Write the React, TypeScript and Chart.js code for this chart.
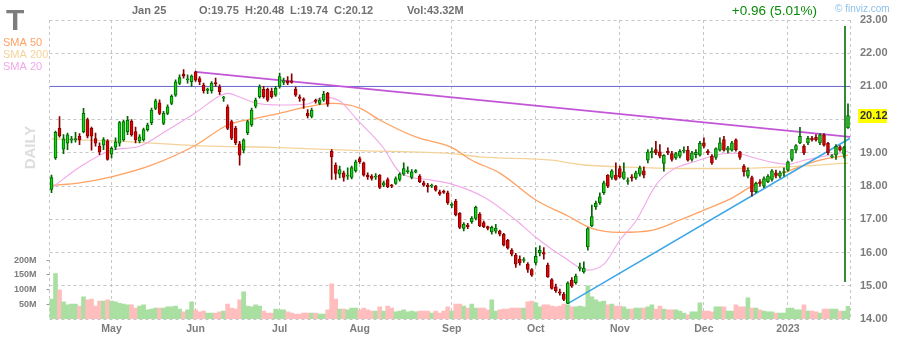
import React, { useEffect, useRef } from 'react';
import { Chart, registerables } from 'chart.js';

Chart.register(...registerables);

const FONT = "'Liberation Sans', Arial, sans-serif";

const ticker = 'T';
const lastDateLabel = 'Jan 25';

// Daily candles, 8 Apr 2022 to 25 Jan 2023 (200 sessions)
const opens = [
  17.90, 18.85, 19.74, 19.11, 19.29, 19.38, 19.40, 19.50, 19.64, 20.00,
  19.74, 19.43, 19.20, 19.23, 19.36, 18.96, 19.17, 19.29, 19.39, 19.64,
  19.96, 19.64, 19.36, 19.39, 19.70, 19.91, 20.34, 20.51, 19.89, 20.19,
  20.49, 20.74, 21.09, 21.37, 21.20, 21.14, 21.44, 21.24, 21.04, 20.88,
  20.87, 21.12, 20.99, 20.65, 20.39, 19.94, 19.74, 19.27, 19.08, 19.61,
  19.84, 20.41, 20.69, 20.91, 20.91, 20.85, 20.74, 21.00, 21.12, 21.17,
  21.17, 20.91, 20.69, 20.62, 20.20, 20.10, 20.58, 20.49, 20.59, 20.79,
  19.05, 18.63, 18.36, 18.40, 18.30, 18.26, 18.46, 18.83, 18.70, 18.33,
  18.30, 18.27, 18.33, 18.03, 18.20, 18.02, 18.08, 18.20, 18.36, 18.43,
  18.26, 18.42, 18.30, 18.10, 18.03, 18.00, 18.00, 17.83, 17.83, 17.80,
  17.42, 17.55, 17.18, 16.73, 16.83, 16.93, 17.03, 17.16, 16.90, 16.78,
  16.62, 16.64, 16.65, 16.55, 16.37, 16.07, 15.92, 15.80, 15.76, 15.65,
  15.49, 15.69, 15.99, 16.00, 15.62, 15.19, 14.97, 14.82, 14.75, 14.47,
  15.17, 15.09, 15.52, 15.42, 16.17, 16.80, 17.38, 17.50, 17.80, 18.33,
  18.26, 18.33, 18.53, 18.23, 18.14, 18.28, 18.25, 18.36, 18.46, 18.78,
  19.00, 19.10, 19.03, 18.68, 19.05, 18.98, 18.85, 18.90, 19.05, 19.08,
  18.80, 18.95, 18.93, 19.30, 19.05, 18.90, 18.86, 19.08, 19.40, 19.08,
  19.08, 19.39, 19.03, 18.60, 18.30, 18.26, 17.83, 18.12, 18.00, 18.13,
  18.20, 18.40, 18.30, 18.41, 18.48, 18.80, 19.08, 19.30, 19.20, 19.30,
  19.44, 19.47, 19.30, 19.54, 19.29, 18.88, 18.93, 19.18, 18.96, 19.75,
];
const highs = [
  18.33, 19.66, 20.09, 19.55, 19.60, 19.50, 19.62, 19.58, 20.34, 20.05,
  19.78, 19.60, 19.30, 19.46, 19.40, 19.18, 19.45, 19.95, 19.98, 20.10,
  20.00, 19.78, 19.55, 19.75, 19.90, 20.35, 20.62, 20.60, 20.25, 20.45,
  20.75, 21.20, 21.35, 21.51, 21.35, 21.35, 21.46, 21.30, 21.10, 20.95,
  21.15, 21.25, 21.05, 20.70, 20.45, 19.98, 19.80, 19.35, 19.42, 19.98,
  20.35, 20.65, 21.05, 21.00, 20.95, 20.95, 21.00, 21.40, 21.25, 21.30,
  21.38, 20.98, 20.75, 20.66, 20.30, 20.35, 20.62, 20.65, 20.85, 20.82,
  19.10, 18.70, 18.60, 18.45, 18.55, 18.60, 18.78, 18.88, 18.72, 18.40,
  18.35, 18.38, 18.35, 18.15, 18.25, 18.05, 18.28, 18.40, 18.70, 18.58,
  18.50, 18.50, 18.35, 18.15, 18.08, 18.06, 18.02, 17.88, 17.88, 17.85,
  17.50, 17.60, 17.20, 16.90, 16.88, 17.08, 17.40, 17.20, 16.95, 16.80,
  16.80, 16.85, 16.68, 16.58, 16.40, 16.12, 15.98, 15.90, 15.85, 15.70,
  15.52, 16.15, 16.20, 16.15, 15.68, 15.22, 15.05, 14.90, 14.80, 15.12,
  15.25, 15.35, 15.68, 15.72, 16.75, 17.43, 17.55, 17.80, 18.15, 18.35,
  18.50, 18.70, 18.60, 18.70, 18.25, 18.35, 18.45, 18.60, 18.58, 19.10,
  19.15, 19.35, 19.25, 18.95, 19.15, 19.05, 19.02, 19.10, 19.18, 19.20,
  19.05, 19.10, 19.35, 19.45, 19.10, 18.95, 19.15, 19.45, 19.50, 19.20,
  19.35, 19.42, 19.05, 18.65, 18.55, 18.30, 18.12, 18.20, 18.28, 18.35,
  18.50, 18.48, 18.45, 18.55, 18.75, 19.10, 19.25, 19.77, 19.25, 19.50,
  19.50, 19.55, 19.58, 19.58, 19.32, 18.95, 19.25, 19.22, 19.20, 20.48,
];
const lows = [
  17.80, 18.80, 19.47, 18.98, 19.10, 19.30, 19.32, 19.25, 19.60, 19.45,
  19.08, 19.20, 18.95, 19.10, 18.78, 18.85, 19.10, 19.20, 19.35, 19.55,
  19.50, 19.30, 19.30, 19.35, 19.65, 19.85, 20.30, 20.15, 19.85, 20.15,
  20.45, 20.70, 21.05, 21.25, 21.10, 21.00, 21.15, 21.05, 20.80, 20.78,
  20.80, 21.00, 20.75, 20.55, 19.70, 19.40, 19.25, 18.63, 19.00, 19.55,
  19.80, 20.35, 20.65, 20.65, 20.55, 20.65, 20.70, 20.95, 21.05, 21.05,
  21.10, 20.70, 20.55, 20.34, 20.05, 20.05, 20.50, 20.45, 20.55, 20.40,
  18.20, 18.20, 18.25, 18.15, 18.20, 18.22, 18.42, 18.68, 18.30, 18.20,
  18.18, 18.20, 17.92, 17.98, 17.95, 17.95, 18.05, 18.15, 18.32, 18.38,
  18.22, 18.40, 18.10, 18.00, 17.82, 17.95, 17.85, 17.72, 17.78, 17.45,
  17.35, 17.10, 16.72, 16.65, 16.72, 16.88, 16.98, 16.78, 16.75, 16.68,
  16.55, 16.58, 16.50, 16.20, 16.10, 15.90, 15.55, 15.62, 15.70, 15.40,
  15.28, 15.62, 15.90, 15.80, 15.25, 14.90, 14.80, 14.72, 14.55, 14.46,
  14.95, 15.05, 15.45, 15.38, 16.07, 16.78, 17.30, 17.45, 17.75, 17.95,
  18.20, 18.18, 18.25, 18.20, 18.05, 18.15, 18.20, 18.30, 18.25, 18.70,
  18.85, 18.95, 18.85, 18.45, 18.95, 18.75, 18.80, 18.85, 19.00, 18.75,
  18.75, 18.85, 18.90, 19.15, 18.95, 18.65, 18.80, 19.05, 19.05, 19.00,
  19.05, 19.05, 18.80, 18.30, 18.25, 17.70, 17.80, 18.00, 17.95, 18.10,
  18.15, 18.25, 18.25, 18.30, 18.45, 18.75, 19.00, 19.28, 18.95, 19.25,
  19.35, 19.35, 19.25, 19.20, 18.95, 18.85, 18.80, 19.05, 18.85, 19.74,
];
const closes = [
  18.26, 19.62, 19.51, 19.42, 19.54, 19.42, 19.42, 19.39, 20.19, 19.50,
  19.50, 19.29, 19.03, 19.40, 18.80, 19.14, 19.33, 19.91, 19.94, 19.99,
  19.54, 19.39, 19.48, 19.70, 19.84, 20.29, 20.57, 20.19, 20.19, 20.39,
  20.71, 21.14, 21.27, 21.31, 21.22, 21.31, 21.19, 21.14, 20.87, 20.92,
  21.10, 21.08, 20.84, 20.68, 19.74, 19.44, 19.30, 18.93, 19.39, 19.94,
  20.29, 20.59, 20.99, 20.69, 20.59, 20.69, 20.94, 21.30, 21.17, 21.10,
  21.12, 20.74, 20.64, 20.58, 20.12, 20.29, 20.55, 20.59, 20.76, 20.47,
  18.88, 18.38, 18.50, 18.26, 18.33, 18.56, 18.73, 18.73, 18.33, 18.28,
  18.23, 18.30, 17.96, 18.10, 17.98, 18.00, 18.23, 18.36, 18.53, 18.47,
  18.43, 18.47, 18.13, 18.03, 17.98, 18.03, 17.88, 17.76, 17.81, 17.50,
  17.46, 17.13, 16.76, 16.86, 16.78, 17.03, 17.36, 16.80, 16.78, 16.73,
  16.76, 16.74, 16.55, 16.22, 16.13, 15.95, 15.65, 15.69, 15.78, 15.49,
  15.32, 15.89, 16.07, 15.95, 15.27, 14.92, 14.85, 14.78, 14.59, 15.09,
  14.99, 15.29, 15.57, 15.53, 16.72, 17.08, 17.48, 17.68, 18.10, 18.00,
  18.46, 18.20, 18.28, 18.43, 18.17, 18.24, 18.40, 18.55, 18.33, 19.03,
  19.05, 19.00, 18.90, 18.93, 19.00, 18.80, 18.98, 19.05, 19.08, 18.78,
  19.00, 19.02, 19.29, 19.20, 19.00, 18.70, 19.13, 19.30, 19.08, 19.15,
  19.30, 19.10, 18.86, 18.43, 18.48, 17.83, 18.08, 18.08, 18.23, 18.30,
  18.46, 18.32, 18.40, 18.42, 18.73, 19.10, 19.22, 19.50, 19.00, 19.44,
  19.39, 19.39, 19.54, 19.23, 19.00, 18.91, 19.20, 19.08, 19.16, 20.12,
];
// Shares traded, millions
const volumes = [
  68, 154, 99, 58, 48, 51, 51, 44, 75, 65,
  68, 44, 61, 61, 65, 61, 58, 53, 51, 48,
  48, 37, 44, 48, 31, 34, 37, 37, 37, 41,
  41, 44, 34, 24, 31, 58, 31, 24, 27, 20,
  20, 20, 24, 27, 51, 37, 34, 65, 92, 44,
  41, 48, 44, 27, 20, 20, 34, 31, 31, 24,
  20, 17, 17, 20, 20, 20, 20, 17, 17, 31,
  119, 68, 34, 34, 31, 37, 37, 31, 37, 31,
  27, 27, 41, 27, 44, 37, 24, 27, 31, 24,
  27, 24, 27, 27, 27, 20, 27, 20, 27, 41,
  27, 51, 51, 44, 37, 51, 37, 37, 37, 31,
  65, 27, 31, 34, 34, 37, 37, 37, 37, 58,
  61, 55, 41, 48, 48, 44, 41, 44, 51, 48,
  41, 41, 44, 41, 113, 75, 65, 58, 61, 48,
  51, 44, 44, 41, 34, 34, 37, 37, 37, 41,
  48, 34, 44, 34, 31, 31, 31, 27, 20, 14,
  24, 24, 55, 27, 27, 24, 41, 41, 41, 27,
  27, 48, 41, 41, 72, 37, 37, 31, 27, 24,
  24, 20, 20, 20, 37, 37, 31, 31, 48, 27,
  27, 24, 20, 34, 34, 34, 34, 27, 27, 43.32,
];

// Moving averages sampled along the session index: [session, value]
const sma20: [number, number][] = [
  [0, 17.94], [7, 18.57], [15, 19.08], [22, 19.2], [29, 19.69], [36, 20.21],
  [42, 20.71], [44, 20.79], [47, 20.68], [51, 20.5], [57, 20.44], [64, 20.47],
  [68, 20.68], [72, 20.56], [76, 20.05], [83, 19.14], [87, 18.42], [95, 18.18],
  [100, 18.06], [108, 17.67], [116, 16.98], [121, 16.46], [128, 15.86], [134, 15.47],
  [138, 15.65], [142, 16.37], [146, 16.95], [151, 18.03], [155, 18.48], [161, 18.75],
  [167, 18.96], [171, 18.99], [175, 18.87], [180, 18.72], [184, 18.66], [188, 18.78],
  [193, 18.9], [199, 19.05],
];
const sma50: [number, number][] = [
  [0, 18.02], [7, 18.1], [15, 18.28], [25, 18.63], [36, 19.23], [44, 19.84],
  [50, 20.02], [57, 20.19], [64, 20.39], [70, 20.49], [77, 20.35], [82, 19.99],
  [91, 19.48], [100, 19.16], [105, 18.78], [112, 18.39], [121, 17.58], [129, 17.1],
  [135, 16.73], [142, 16.61], [150, 16.67], [157, 16.98], [163, 17.28], [170, 17.64],
  [175, 18.0], [184, 18.45], [192, 18.78], [199, 18.93],
];
const sma200: [number, number][] = [
  [0, 19.42], [15, 19.36], [36, 19.22], [57, 19.16], [77, 19.07], [100, 18.98],
  [107, 18.88], [125, 18.78], [132, 18.65], [144, 18.57], [157, 18.53], [170, 18.53],
  [182, 18.57], [199, 18.69],
];

// Drawn trend lines and levels: [session, price]
const resistanceLine: [number, number][] = [[36, 21.44], [199.5, 19.48]];
const supportLine: [number, number][] = [[129, 14.46], [199.5, 19.44]];
const horizontalLevel = 21.0;
const lastBarMarker: [number, number][] = [[198.25, 22.82], [198.25, 15.11]];

// Axes
const monthTickIdx = [15, 36, 57, 77, 100, 121, 142, 163, 184];
const monthTickLabels = ['May', 'Jun', 'Jul', 'Aug', 'Sep', 'Oct', 'Nov', 'Dec', '2023'];
const priceMin = 14;
const priceMax = 23;
const volumeTicks = [50, 100, 150, 200];
const volumeAxisMax = 1015;

const UP_FILL = '#14d414';
const UP_EDGE = '#006600';
const DN_FILL = '#e40000';
const DN_EDGE = '#880000';
const VOL_UP = '#a9dfa1';
const VOL_DN = '#ffbdbd';
const GRID = '#c6c6c6';
const AXIS_TXT = '#7c7c7c';
const HEAD_TXT = '#707070';
const SMA50_C = '#ffa263';
const SMA200_C = '#f4d39a';
const SMA20_C = '#f2a8e8';

const sessions = closes.map((_, i) => i);
const isUp = (i: number) => closes[i] >= opens[i];
const pairs = (arr: [number, number][]) => arr.map(([x, y]) => ({ x, y }));

const headerPlugin = {
  id: 'header',
  afterDraw(chart: any) {
    const ctx = chart.ctx as CanvasRenderingContext2D;
    const last = closes.length - 1;
    const prev = closes[last - 1];
    const change = closes[last] - prev;
    const pct = (change / prev) * 100;
    ctx.save();
    ctx.textBaseline = 'alphabetic';

    ctx.fillStyle = '#7d7d7d';
    ctx.font = `bold 30px ${FONT}`;
    ctx.textAlign = 'left';
    ctx.fillText(ticker, 6, 30);

    ctx.font = `11px ${FONT}`;
    ctx.fillStyle = SMA50_C;
    ctx.fillText('SMA 50', 3, 46);
    ctx.fillStyle = SMA200_C;
    ctx.fillText('SMA 200', 3, 58);
    ctx.fillStyle = SMA20_C;
    ctx.fillText('SMA 20', 3, 70);

    ctx.font = `bold 11px ${FONT}`;
    ctx.fillStyle = HEAD_TXT;
    ctx.fillText(lastDateLabel, 132, 14);
    ctx.fillText(`O:${opens[last].toFixed(2)}`, 199, 14);
    ctx.fillText(`H:${highs[last].toFixed(2)}`, 245, 14);
    ctx.fillText(`L:${lows[last].toFixed(2)}`, 290, 14);
    ctx.fillText(`C:${closes[last].toFixed(2)}`, 334, 14);
    ctx.fillText(`Vol:${volumes[last].toFixed(2)}M`, 407, 14);

    ctx.font = `13.5px ${FONT}`;
    ctx.fillStyle = change >= 0 ? '#0a8a0a' : '#cc0000';
    ctx.textAlign = 'right';
    ctx.fillText(`${change >= 0 ? '+' : ''}${change.toFixed(2)} (${pct.toFixed(2)}%)`, 817, 15);

    ctx.font = `10px ${FONT}`;
    ctx.fillStyle = '#8fc1ea';
    ctx.textAlign = 'left';
    ctx.fillText('\u00a9 finviz.com', 835, 12);

    // vertical timeframe caption
    ctx.save();
    ctx.translate(31, 147.5);
    ctx.rotate(-Math.PI / 2);
    ctx.font = `bold 15px ${FONT}`;
    ctx.fillStyle = '#dddddd';
    ctx.textAlign = 'center';
    ctx.textBaseline = 'middle';
    ctx.fillText('DAILY', 0, 0);
    ctx.restore();

    // last price tag on the price axis
    const py = chart.scales.y.getPixelForValue(closes[last]);
    ctx.fillStyle = '#ffff00';
    ctx.fillRect(858, Math.round(py) - 7, 29, 14);
    ctx.fillStyle = '#333333';
    ctx.font = `bold 11px ${FONT}`;
    ctx.textAlign = 'left';
    ctx.textBaseline = 'middle';
    ctx.fillText(closes[last].toFixed(2), 860, py);
    ctx.restore();
  },
};

export default function App() {
  const ref = useRef<HTMLCanvasElement>(null);

  useEffect(() => {
    if (!ref.current) return;
    const chart = new Chart(ref.current, {
      type: 'bar',
      data: {
        datasets: [
          {
            type: 'bar',
            label: 'Volume',
            yAxisID: 'yv',
            data: sessions.map((i) => ({ x: i, y: volumes[i] })),
            backgroundColor: sessions.map((i) => (isUp(i) ? VOL_UP : VOL_DN)),
            barThickness: 4,
            grouped: false,
            order: 20,
          },
          {
            type: 'line',
            label: 'SMA 200',
            yAxisID: 'y',
            data: pairs(sma200),
            borderColor: SMA200_C,
            borderWidth: 1.3,
            pointRadius: 0,
            cubicInterpolationMode: 'monotone',
            order: 15,
          },
          {
            type: 'line',
            label: 'SMA 50',
            yAxisID: 'y',
            data: pairs(sma50),
            borderColor: SMA50_C,
            borderWidth: 1.3,
            pointRadius: 0,
            cubicInterpolationMode: 'monotone',
            order: 14,
          },
          {
            type: 'line',
            label: 'SMA 20',
            yAxisID: 'y',
            data: pairs(sma20),
            borderColor: SMA20_C,
            borderWidth: 1.1,
            pointRadius: 0,
            cubicInterpolationMode: 'monotone',
            order: 13,
          },
          {
            type: 'line',
            label: 'Level',
            yAxisID: 'y',
            data: [
              { x: -0.5, y: horizontalLevel },
              { x: 199.5, y: horizontalLevel },
            ],
            borderColor: '#6868d0',
            borderWidth: 1,
            pointRadius: 0,
            order: 12,
          },
          {
            type: 'line',
            label: 'Resistance',
            yAxisID: 'y',
            data: pairs(resistanceLine),
            borderColor: '#c256d6',
            borderWidth: 1.8,
            pointRadius: 0,
            order: 11,
          },
          {
            type: 'line',
            label: 'Support',
            yAxisID: 'y',
            data: pairs(supportLine),
            borderColor: '#3ba6e8',
            borderWidth: 1.5,
            pointRadius: 0,
            order: 11,
          },
          {
            type: 'bar',
            label: 'Wicks',
            yAxisID: 'y',
            data: sessions.map((i) => ({ x: i, y: [lows[i], highs[i]] })),
            backgroundColor: sessions.map((i) => (isUp(i) ? UP_EDGE : DN_EDGE)),
            barThickness: 1,
            grouped: false,
            order: 3,
          },
          {
            type: 'bar',
            label: 'Bodies',
            yAxisID: 'y',
            data: sessions.map((i) => ({ x: i, y: [opens[i], closes[i]] })),
            backgroundColor: sessions.map((i) => (isUp(i) ? UP_FILL : DN_FILL)),
            borderColor: sessions.map((i) => (isUp(i) ? UP_EDGE : DN_EDGE)),
            borderWidth: 1,
            borderSkipped: false,
            minBarLength: 1,
            barThickness: 3,
            grouped: false,
            order: 2,
          },
          {
            type: 'line',
            label: 'Marker',
            yAxisID: 'y',
            data: pairs(lastBarMarker),
            borderColor: '#006f00',
            borderWidth: 1.6,
            pointRadius: 0,
            order: 1,
          },
        ] as any,
      },
      options: {
        responsive: false,
        animation: false,
        events: [],
        layout: { padding: { top: 20, left: 0, right: 0, bottom: 0 } },
        plugins: { legend: { display: false }, tooltip: { enabled: false } },
        scales: {
          x: {
            type: 'linear',
            position: 'bottom',
            min: -0.5,
            max: 199.5,
            bounds: 'data',
            offset: false,
            afterFit: (s: any) => {
              s.height = 21;
            },
            afterBuildTicks: (s: any) => {
              s.ticks = [-0.5, ...monthTickIdx, 199.5].map((v) => ({ value: v }));
            },
            grid: { color: GRID, lineWidth: 1, drawTicks: false, offset: false },
            border: { display: false, dash: [3, 3] },
            ticks: {
              autoSkip: false,
              maxRotation: 0,
              padding: 4,
              color: AXIS_TXT,
              font: { family: FONT, size: 10.5, weight: 'bold' },
              callback: (v: any) => {
                const k = monthTickIdx.indexOf(Number(v));
                return k >= 0 ? monthTickLabels[k] : '';
              },
            },
          },
          y: {
            type: 'linear',
            position: 'right',
            min: priceMin,
            max: priceMax,
            afterFit: (s: any) => {
              s.width = 50;
            },
            grid: { color: GRID, lineWidth: 1, drawTicks: false },
            border: { display: false, dash: [3, 3] },
            ticks: {
              stepSize: 1,
              padding: 10,
              color: AXIS_TXT,
              font: { family: FONT, size: 11, weight: 'bold' },
              callback: (v: any) => Number(v).toFixed(2),
            },
          },
          yv: {
            type: 'linear',
            position: 'left',
            min: 0,
            max: volumeAxisMax,
            afterFit: (s: any) => {
              s.width = 49.5;
            },
            afterBuildTicks: (s: any) => {
              s.ticks = volumeTicks.map((v) => ({ value: v }));
            },
            grid: {
              drawOnChartArea: false,
              drawTicks: true,
              tickLength: 6,
              tickColor: '#9a9a9a',
              tickBorderDash: [3, 3],
              tickBorderDashOffset: 3,
            },
            border: { display: false },
            ticks: {
              padding: 7,
              color: AXIS_TXT,
              font: { family: FONT, size: 9, weight: 'bold' },
              callback: (v: any) => `${v}M`,
            },
          },
        },
      } as any,
      plugins: [headerPlugin],
    });
    return () => chart.destroy();
  }, []);

  return (
    <div style={{ position: 'absolute', left: 0, top: 0, width: 900, height: 340, background: '#ffffff' }}>
      <canvas ref={ref} width={900} height={340} style={{ display: 'block', width: 900, height: 340 }} />
    </div>
  );
}
